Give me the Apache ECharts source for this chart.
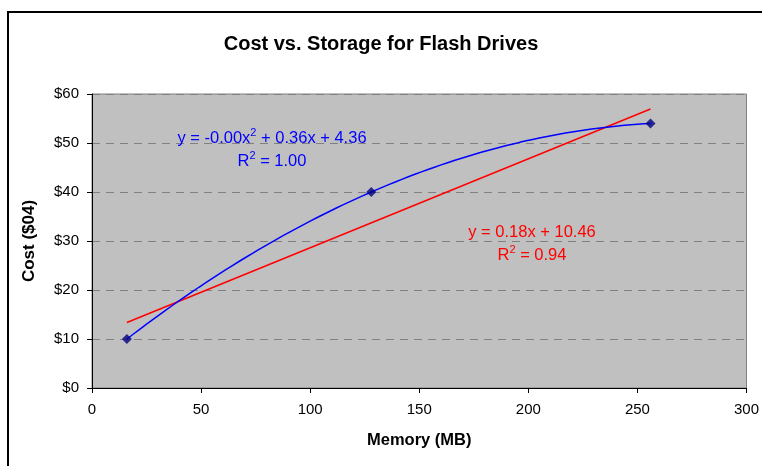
<!DOCTYPE html>
<html>
<head>
<meta charset="utf-8">
<script src="https://cdn.jsdelivr.net/npm/echarts@6/dist/echarts.min.js"></script>
<style>
  html, body { margin: 0; padding: 0; background: #ffffff; }
  #chart { width: 762px; height: 466px; }
</style>
</head>
<body>
<div id="chart"></div>
<script>
// Flash drive capacity (MB) and price (USD)
const memoryMB = [16, 128, 256];
const costUSD = [10, 40, 54];

// Axis ticks
const xTicks = [0, 50, 100, 150, 200, 250, 300];
const yTicks = [0, 10, 20, 30, 40, 50, 60];

const FONT = '"Liberation Sans", Arial, sans-serif';

// Least-squares linear fit
function linearFit(xs, ys) {
  const n = xs.length;
  const mx = xs.reduce((a, b) => a + b, 0) / n;
  const my = ys.reduce((a, b) => a + b, 0) / n;
  let sxx = 0, sxy = 0;
  for (let i = 0; i < n; i++) {
    sxx += (xs[i] - mx) * (xs[i] - mx);
    sxy += (xs[i] - mx) * (ys[i] - my);
  }
  const slope = sxy / sxx;
  return { slope, intercept: my - slope * mx };
}

// Least-squares quadratic fit (normal equations, Gaussian elimination)
function quadFit(xs, ys) {
  const S = k => xs.reduce((a, x) => a + Math.pow(x, k), 0);
  const T = k => xs.reduce((a, x, i) => a + Math.pow(x, k) * ys[i], 0);
  const M = [
    [S(4), S(3), S(2), T(2)],
    [S(3), S(2), S(1), T(1)],
    [S(2), S(1), xs.length, T(0)]
  ];
  for (let c = 0; c < 3; c++) {
    for (let r = c + 1; r < 3; r++) {
      const f = M[r][c] / M[c][c];
      for (let k = c; k < 4; k++) M[r][k] -= f * M[c][k];
    }
  }
  const sol = [0, 0, 0];
  for (let r = 2; r >= 0; r--) {
    let s = M[r][3];
    for (let k = r + 1; k < 3; k++) s -= M[r][k] * sol[k];
    sol[r] = s / M[r][r];
  }
  return { a: sol[0], b: sol[1], c: sol[2] };
}

const lin = linearFit(memoryMB, costUSD);
const quad = quadFit(memoryMB, costUSD);
const xMin = Math.min(...memoryMB), xMax = Math.max(...memoryMB);

const linearLine = [xMin, xMax].map(x => [x, lin.slope * x + lin.intercept]);
const quadCurve = [];
for (let i = 0; i <= 80; i++) {
  const x = xMin + (xMax - xMin) * i / 80;
  quadCurve.push([x, quad.a * x * x + quad.b * x + quad.c]);
}

const chart = echarts.init(document.getElementById('chart'), null, { renderer: 'canvas' });

chart.setOption({
  animation: false,
  backgroundColor: '#ffffff',
  title: {
    text: 'Cost vs. Storage for Flash Drives',
    left: 'center',
    top: 29,
    textStyle: { fontFamily: FONT, fontSize: 20, fontWeight: 'bold', color: '#000000' }
  },
  grid: {
    left: 92, top: 94, right: 14, bottom: 78,
    show: true,
    backgroundColor: '#C0C0C0',
    borderColor: '#808080',
    borderWidth: 1
  },
  xAxis: {
    type: 'value',
    min: xTicks[0], max: xTicks[xTicks.length - 1], interval: 50,
    name: 'Memory (MB)',
    nameLocation: 'middle',
    nameGap: 44,
    nameTextStyle: { fontFamily: FONT, fontSize: 16.5, fontWeight: 'bold', color: '#000000' },
    axisLine: { show: true, lineStyle: { color: '#000000', width: 1 } },
    axisTick: { show: true, inside: false, length: 5, lineStyle: { color: '#000000' } },
    axisLabel: { fontFamily: FONT, fontSize: 15, color: '#000000', margin: 14 },
    splitLine: { show: false }
  },
  yAxis: {
    type: 'value',
    min: yTicks[0], max: yTicks[yTicks.length - 1], interval: 10,
    name: 'Cost ($04)',
    nameLocation: 'middle',
    nameGap: 54,
    nameRotate: 90,
    nameTextStyle: { fontFamily: FONT, fontSize: 17, fontWeight: 'bold', color: '#000000' },
    axisLine: { show: true, lineStyle: { color: '#000000', width: 1 } },
    axisTick: { show: true, inside: false, length: 5, lineStyle: { color: '#000000' } },
    axisLabel: {
      fontFamily: FONT, fontSize: 15, color: '#000000', margin: 13,
      formatter: v => '$' + v
    },
    splitLine: { show: true, lineStyle: { color: '#808080', type: [8, 6], width: 1 } }
  },
  series: [
    {
      name: 'Linear trend',
      type: 'line',
      data: linearLine,
      showSymbol: false,
      lineStyle: { color: '#FF0000', width: 1.5 },
      z: 2
    },
    {
      name: 'Polynomial trend',
      type: 'line',
      data: quadCurve,
      showSymbol: false,
      smooth: false,
      lineStyle: { color: '#0000FF', width: 1.5 },
      z: 3
    },
    {
      name: 'Cost',
      type: 'scatter',
      data: memoryMB.map((x, i) => [x, costUSD[i]]),
      symbol: 'diamond',
      symbolSize: 10,
      itemStyle: { color: '#000080' },
      z: 4
    }
  ],
  graphic: [
    {
      type: 'rect',
      shape: { x: 8, y: 12, width: 800, height: 500 },
      style: { fill: 'none', stroke: '#000000', lineWidth: 2 },
      silent: true
    },
    {
      type: 'text',
      x: 272, y: 127,
      style: {
        text: '{t|y = -0.00x}{s|2}{t| + 0.36x + 4.36}\n{t|R}{s|2}{t| = 1.00}',
        align: 'center',
        lineHeight: 23,
        rich: {
          t: { fontFamily: FONT, fontSize: 16.5, fill: '#0000FF', lineHeight: 23 },
          s: { fontFamily: FONT, fontSize: 11, fill: '#0000FF', verticalAlign: 'top', lineHeight: 23, padding: [0, 0, 8, 0] }
        }
      },
      z: 10
    },
    {
      type: 'text',
      x: 532, y: 221,
      style: {
        text: '{t|y = 0.18x + 10.46}\n{t|R}{s|2}{t| = 0.94}',
        align: 'center',
        lineHeight: 23,
        rich: {
          t: { fontFamily: FONT, fontSize: 16.5, fill: '#FF0000', lineHeight: 23 },
          s: { fontFamily: FONT, fontSize: 11, fill: '#FF0000', verticalAlign: 'top', lineHeight: 23, padding: [0, 0, 8, 0] }
        }
      },
      z: 10
    }
  ]
});
</script>
</body>
</html>
